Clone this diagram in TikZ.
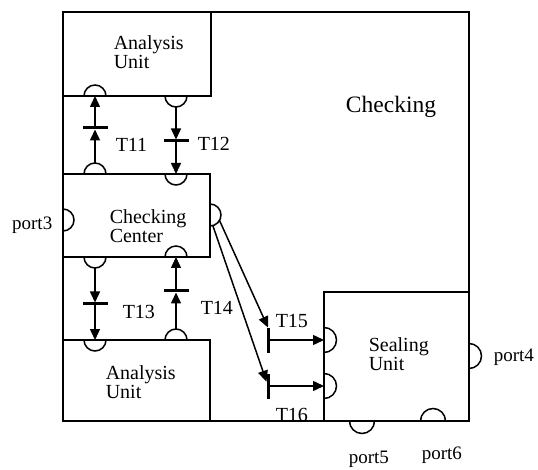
\documentclass[tikz,border=0pt]{standalone}
\usepackage{fontspec}
\setmainfont{Liberation Serif}
\usetikzlibrary{arrows.meta}

\begin{document}
\begin{tikzpicture}[x=1pt,y=1pt,line width=1.5pt,
  box/.style={draw, inner sep=0pt, outer sep=0pt},
  port/.style={circle, inner sep=0pt, outer sep=0pt, minimum size=22pt},
  bigport/.style={port, minimum size=25pt},
  hbar/.style={fill=black, inner sep=0pt, outer sep=0pt, minimum width=25pt, minimum height=3pt},
  vbar/.style={hbar, minimum width=3pt, minimum height=25pt},
  flow/.style={-{Triangle[length=11pt,width=10pt]}},
  unitname/.style={font=\fontsize{20}{19}\selectfont, align=left, inner sep=0pt, anchor=north west},
  tlbl/.style={font=\fontsize{20}{20}\selectfont, inner sep=0pt, anchor=base west},
  plbl/.style={font=\fontsize{19}{19}\selectfont, inner sep=0pt},
]
\useasboundingbox (0,0) rectangle (538,-470);

% module boxes
\node[box, minimum width=406pt, minimum height=409pt] (chk) at (266,-216.5) {};
\node[box, minimum width=148pt, minimum height=84pt] (au1) at (137,-54) {};
\node[box, minimum width=147pt, minimum height=83pt] (cc) at (136.5,-215.5) {};
\node[box, minimum width=147pt, minimum height=81pt] (au2) at (136.5,-380.5) {};
\node[box, minimum width=145pt, minimum height=129pt] (su) at (396.5,-356.5) {};

% ports (circle nodes, only one half is drawn)
\node[port] (au1a) at (95,-96) {};
\node[port] (au1b) at (176,-96) {};
\node[port] (ccTa) at (95,-174) {};
\node[port] (ccTb) at (176,-174) {};
\node[port] (ccL) at (63,-220) {};
\node[port] (ccR) at (210,-215) {};
\node[port] (ccBa) at (95,-257) {};
\node[port] (ccBb) at (176,-257) {};
\node[port] (au2a) at (95,-340) {};
\node[port] (au2b) at (176,-340) {};
\node[bigport] (su1) at (324,-340) {};
\node[bigport] (su2) at (324,-386) {};
\node[bigport] (su4) at (469,-356) {};
\node[bigport] (su5) at (362,-421) {};
\node[bigport] (su6) at (433,-421) {};

% half circles: upwards, downwards, to the right
\foreach \p/\r in {au1a/11pt, ccTa/11pt, ccBb/11pt, au2b/11pt, su6/12.5pt}
  \draw (\p.west) arc[start angle=180, end angle=0, radius=\r];
\foreach \p/\r in {au1b/11pt, ccTb/11pt, ccBa/11pt, au2a/11pt, su5/12.5pt}
  \draw (\p.west) arc[start angle=180, end angle=360, radius=\r];
\foreach \p/\r in {ccL/11pt, ccR/11pt, su1/12.5pt, su2/12.5pt, su4/12.5pt}
  \draw (\p.north) arc[start angle=90, end angle=-90, radius=\r];

% transitions
\node[hbar] (t11) at (95,-128) {};
\node[hbar] (t12) at (176,-141) {};
\node[hbar] (t13) at (95,-304) {};
\node[hbar] (t14) at (176,-291) {};
\node[vbar] (t15) at (268,-340) {};
\node[vbar] (t16) at (268,-386) {};

% arcs
\draw[flow] (ccTa) -- (t11);
\draw[flow] (t11) -- (au1a.center);
\draw[flow] (au1b) -- (t12);
\draw[flow] (t12) -- (ccTb.center);
\draw[flow] (ccBa) -- (t13);
\draw[flow] (t13) -- (au2a.center);
\draw[flow] (au2b) -- (t14);
\draw[flow] (t14) -- (ccBb.center);
\draw[flow] (ccR.-30) -- (t15.north);
\draw[flow] (ccR.-75) -- (t16);
\draw[flow] (t15) -- (su1.center);
\draw[flow] (t16) -- (su2.center);

% names
\node[unitname] (au1txt) at (113,-35) {Analysis\\Unit};
\node[unitname] (cctxt) at (109,-209) {Checking\\Center};
\node[unitname] (au2txt) at (105,-365) {Analysis\\Unit};
\node[unitname] (sutxt) at (368,-337) {Sealing\\Unit};
\node[font=\fontsize{23.5}{24}\selectfont, inner sep=0pt, anchor=base] (chktxt) at (391,-113) {Checking};

\node[tlbl] (l11) at (115,-152) {T11};
\node[tlbl] (l12) at (197,-151) {T12};
\node[tlbl] (l13) at (122,-318) {T13};
\node[tlbl] (l14) at (200,-315) {T14};
\node[tlbl] (l15) at (275,-327) {T15};
\node[tlbl] (l16) at (275,-421.5) {T16};

\node[plbl, anchor=base east] (p3) at (53,-230) {port3};
\node[plbl, anchor=base west] (p4) at (493,-361) {port4};
\node[plbl, anchor=base west] (p5) at (348,-463) {port5};
\node[plbl, anchor=base west] (p6) at (421,-459) {port6};
\end{tikzpicture}
\end{document}
